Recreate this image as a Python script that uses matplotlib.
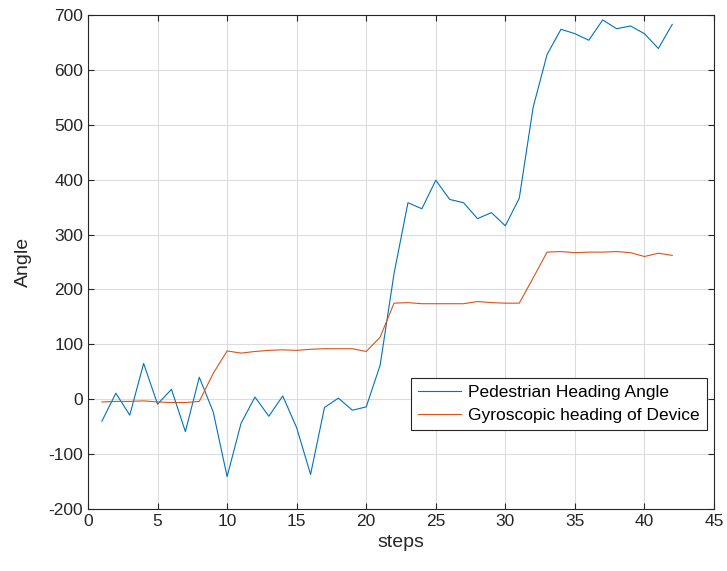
import matplotlib
matplotlib.use("Agg")
import matplotlib.pyplot as plt
import numpy as np

plt.rcParams['font.family'] = ['Liberation Sans', 'DejaVu Sans']
plt.rcParams['axes.unicode_minus'] = False

steps = np.arange(1, 43)
pedestrian_heading = [
    -40, 11, -29, 65, -9, 18, -59, 40, -23, -141,
    -44, 4, -31, 6, -52, -137, -15, 2, -20, -14,
    62, 229, 358, 347, 399, 364, 358, 329, 340, 316,
    366, 532, 628, 674, 666, 654, 691, 675, 680, 666,
    639, 683,
]
gyro_heading = [
    -5, -4, -4, -3, -5, -6, -6, -4, 47, 88,
    84, 87, 89, 90, 89, 91, 92, 92, 92, 87,
    113, 175, 176, 174, 174, 174, 174, 178, 176, 175,
    175, 221, 268, 269, 267, 268, 268, 269, 267, 260,
    266, 262,
]
labels = ["Pedestrian Heading Angle", "Gyroscopic heading of Device"]

axis_color = "#262626"

fig = plt.figure(figsize=(7.27, 5.71), dpi=100)
ax = fig.add_axes([88 / 727, 1 - 509 / 571, (714 - 88) / 727, (509 - 15) / 571])

ax.plot(steps, pedestrian_heading, color="#0072BD", linewidth=0.8, label=labels[0])
ax.plot(steps, gyro_heading, color="#D95319", linewidth=0.8, label=labels[1])

ax.set_xlim(0, 45)
ax.set_ylim(-200, 700)
ax.set_xticks(np.arange(0, 46, 5))
ax.set_yticks(np.arange(-200, 701, 100))
ax.grid(True, color="#dcdcdc", linewidth=0.8)
ax.set_axisbelow(True)

ax.tick_params(direction="in", top=True, right=True, length=4, width=0.8,
               colors=axis_color, labelsize=12.5, labelcolor=axis_color)
for spine in ax.spines.values():
    spine.set_color(axis_color)
    spine.set_linewidth(0.8)

ax.set_xlabel("steps", fontsize=14, color=axis_color, labelpad=4)
ax.set_ylabel("Angle", fontsize=14, color=axis_color, labelpad=12)

leg = ax.legend(loc="upper left", bbox_to_anchor=((411 - 88) / 626, (509 - 378) / 494),
                fontsize=12.5, fancybox=False, framealpha=1, edgecolor=axis_color,
                handlelength=2.5, borderpad=0.4, labelspacing=0.45, handletextpad=0.4,
                borderaxespad=0)
leg.get_frame().set_linewidth(0.8)

fig.savefig("out.png", dpi=100)
